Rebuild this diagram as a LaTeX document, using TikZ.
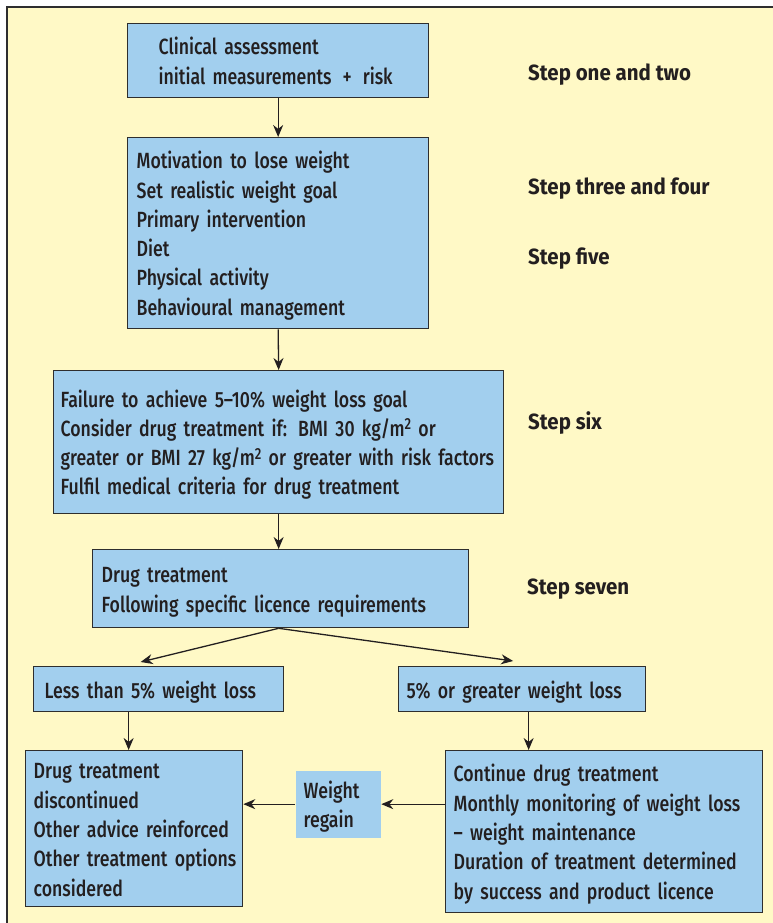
\documentclass[tikz,border=0pt]{standalone}
\usepackage{fontspec}
\setmainfont{Fira Sans}[FakeStretch=0.805, UprightFont={* Medium}, BoldFont={* Bold}]
\newfontfamily\stepfont{Fira Sans}[FakeStretch=0.93, UprightFont={* Bold}]
\usetikzlibrary{arrows.meta}
\definecolor{panel}{HTML}{FFF9C6}
\definecolor{boxblue}{HTML}{A2CFEE}
\definecolor{ink}{HTML}{231F20}
\definecolor{edge}{HTML}{2E2E2E}
\newcommand{\sqr}{\raisebox{0.55ex}{\fontsize{16}{16}\selectfont 2}}
\newcommand{\boxlines}[1]{\raisebox{-3pt}[\height][\depth]{\begin{tabular}{@{}l@{}}#1\end{tabular}}}
\tikzset{
  box/.style={draw=edge, line width=1.3pt, fill=boxblue, anchor=north west,
    inner xsep=9pt, inner ysep=0pt, align=left, text=ink,
    font=\fontsize{22}{29.3}\selectfont},
  plainbox/.style={box, draw=none},
  steplabel/.style={anchor=west, text=ink, inner sep=0pt,
    font=\fontsize{22}{24}\stepfont},
  conn/.style={draw=ink, line width=1.3pt, -{Stealth[length=12pt,width=10pt]}}
}
\begin{document}
\begin{tikzpicture}[x=1pt,y=-1pt]
\useasboundingbox (0,0) rectangle (773,923);
\fill[white] (0,0) rectangle (773,923);
\fill[panel] (7,7) rectangle (774,924);
\draw[edge, line width=2pt] (7,924) -- (7,7) -- (774,7);

\node[box, minimum width=301pt, minimum height=74pt, text width=239pt, inner xsep=31pt] (b1) at (127,23)
  {\boxlines{Clinical assessment\\initial measurements \,+\, risk}};
\node[box, minimum width=301pt, minimum height=191pt, text width=283pt] (b2) at (127,137)
  {\boxlines{Motivation to lose weight\\Set realistic weight goal\\Primary intervention\\Diet\\Physical activity\\Behavioural management}};
\node[box, minimum width=450pt, minimum height=143pt, text width=436pt, inner xsep=7pt] (b3) at (53,370)
  {\boxlines{Failure to achieve 5--10\% weight loss goal\\Consider drug treatment if: BMI 30 kg/m\sqr{} or\\greater or BMI 27 kg/m\sqr{} or greater with risk factors\\Fulfil medical criteria for drug treatment}};
\node[box, minimum width=376pt, minimum height=78pt, text width=358pt] (b4) at (92,549)
  {\boxlines{Drug treatment\\Following specific licence requirements}};
\node[box, minimum width=250pt, minimum height=45pt, text width=228pt, inner xsep=11pt] (b5) at (33,666)
  {\boxlines{Less than 5\% weight loss}};
\node[box, minimum width=247pt, minimum height=45pt, text width=231pt, inner xsep=8pt] (b6) at (398,666)
  {\boxlines{5\% or greater weight loss}};
\node[box, minimum width=217pt, minimum height=156pt, text width=201pt, inner xsep=8pt] (b7) at (25,750)
  {\boxlines{Drug treatment\\discontinued\\Other advice reinforced\\Other treatment options\\considered}};
\node[box, minimum width=317pt, minimum height=162pt, text width=301pt, inner xsep=8pt] (b8) at (445,750)
  {\boxlines{Continue drug treatment\\Monthly monitoring of weight loss\\-- weight maintenance\\Duration of treatment determined\\by success and product licence}};
\node[plainbox, minimum width=85pt, minimum height=67pt, text width=69pt, inner xsep=8pt] (wr) at (295,770)
  {\boxlines{Weight\\regain}};

\node[steplabel] (s1) at (528,75) {Step one and two};
\node[steplabel] (s2) at (528,189) {Step three and four};
\node[steplabel] (s3) at (528,259) {Step five};
\node[steplabel] (s4) at (528,423) {Step six};
\node[steplabel] (s5) at (527,589) {Step seven};

\draw[conn] (b1.south) -- (b2.north);
\draw[conn] (b2.south) -- (b3.north);
\draw[conn] (b3.south) -- (b3.south |- b4.north);
\draw[conn] ([xshift=-2pt]b4.south) -- ([xshift=-18pt,yshift=4pt]b5.north);
\draw[conn] ([xshift=-2pt]b4.south) -- ([xshift=-9pt,yshift=5pt]b6.north);
\draw[conn] ([xshift=-30pt]b5.south) -- ([xshift=-30pt]b5.south |- b7.north);
\draw[conn] ([xshift=6.5pt]b6.south) -- ([xshift=6.5pt]b6.south |- b8.north);
\draw[conn] (b8.west |- wr.east) -- (wr.east);
\draw[conn] (wr.west) -- (b7.east |- wr.west);
\end{tikzpicture}
\end{document}
